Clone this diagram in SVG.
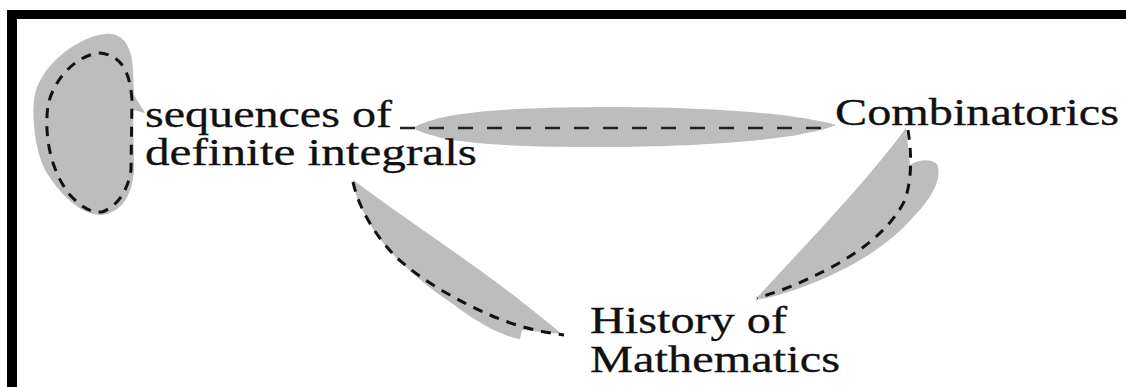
<svg xmlns="http://www.w3.org/2000/svg" width="1126" height="387" viewBox="0 0 1126 387">
<style>
.lbl{font-family:"Liberation Serif","Times New Roman",serif;font-size:38px;fill:#111;stroke:#111;stroke-width:0.3}
.blob{fill:#bdbdbd;stroke:none}
.dash{fill:none;stroke:#111;stroke-width:3;stroke-dasharray:10 8}
.dashH{fill:none;stroke:#222;stroke-width:2.5;stroke-dasharray:15 14}
</style>
<rect width="1126" height="387" fill="#fff"/>
<g id="frame">
<rect x="7" y="10" width="1119" height="9" fill="#000"/>
<rect x="7" y="10" width="10" height="377" fill="#000"/>
</g>
<g id="connectors">
<g id="self-loop">
<path class="blob" d="M105,34 C122,32 132,45 133,70 L134,95 L145,113 L133,110 L134,170 C132,200 118,214 100,215 C80,214 60,195 45,170 C35,150 32,120 34,100 C38,65 80,36 105,34 Z"/>
<path class="dash" d="M132,100 C130,70 120,55 100,53 C80,54 55,75 48,105 C44,135 50,170 70,195 C82,208 92,213 102,212 C118,206 128,190 131,170 L132,100"/>
</g>
<g id="edge-seq-comb">
<path class="blob" d="M413,128 C440,112 500,108 600,107 C700,107 790,112 836,125 C800,140 700,147 600,147 C500,147 440,143 413,128 Z"/>
<path class="dashH" d="M400,128 L835,128"/>
</g>
<g id="edge-comb-hist">
<path class="blob" d="M755,300 C800,250 860,190 906,128 L910,165 C918,160 930,158 937,164 C942,175 935,195 915,215 C890,245 850,270 800,288 C780,295 765,299 755,300 Z"/>
<path class="dash" d="M908,130 C911,150 913,175 905,200 C890,230 860,252 830,268 C805,281 785,290 757,298"/>
</g>
<g id="edge-seq-hist">
<path class="blob" d="M353,180 C400,215 460,255 500,285 C520,300 545,320 562,334 L522,330 L520,339 C505,337 480,325 450,302 C410,275 380,245 365,215 C358,202 354,190 353,180 Z"/>
<path class="dash" d="M353,182 C358,205 372,232 395,256 C420,280 460,302 490,315 C515,326 540,332 564,335"/>
</g>
</g>
<g id="node-seq">
<text class="lbl" x="145" y="127" textLength="247" lengthAdjust="spacingAndGlyphs">sequences of</text>
<text class="lbl" x="145" y="165" textLength="332" lengthAdjust="spacingAndGlyphs">definite integrals</text>
</g>
<g id="node-comb">
<text class="lbl" x="835" y="125" textLength="284" lengthAdjust="spacingAndGlyphs">Combinatorics</text>
</g>
<g id="node-hist">
<text class="lbl" x="590" y="333" textLength="197" lengthAdjust="spacingAndGlyphs">History of</text>
<text class="lbl" x="590" y="372" textLength="250" lengthAdjust="spacingAndGlyphs">Mathematics</text>
</g>
</svg>
